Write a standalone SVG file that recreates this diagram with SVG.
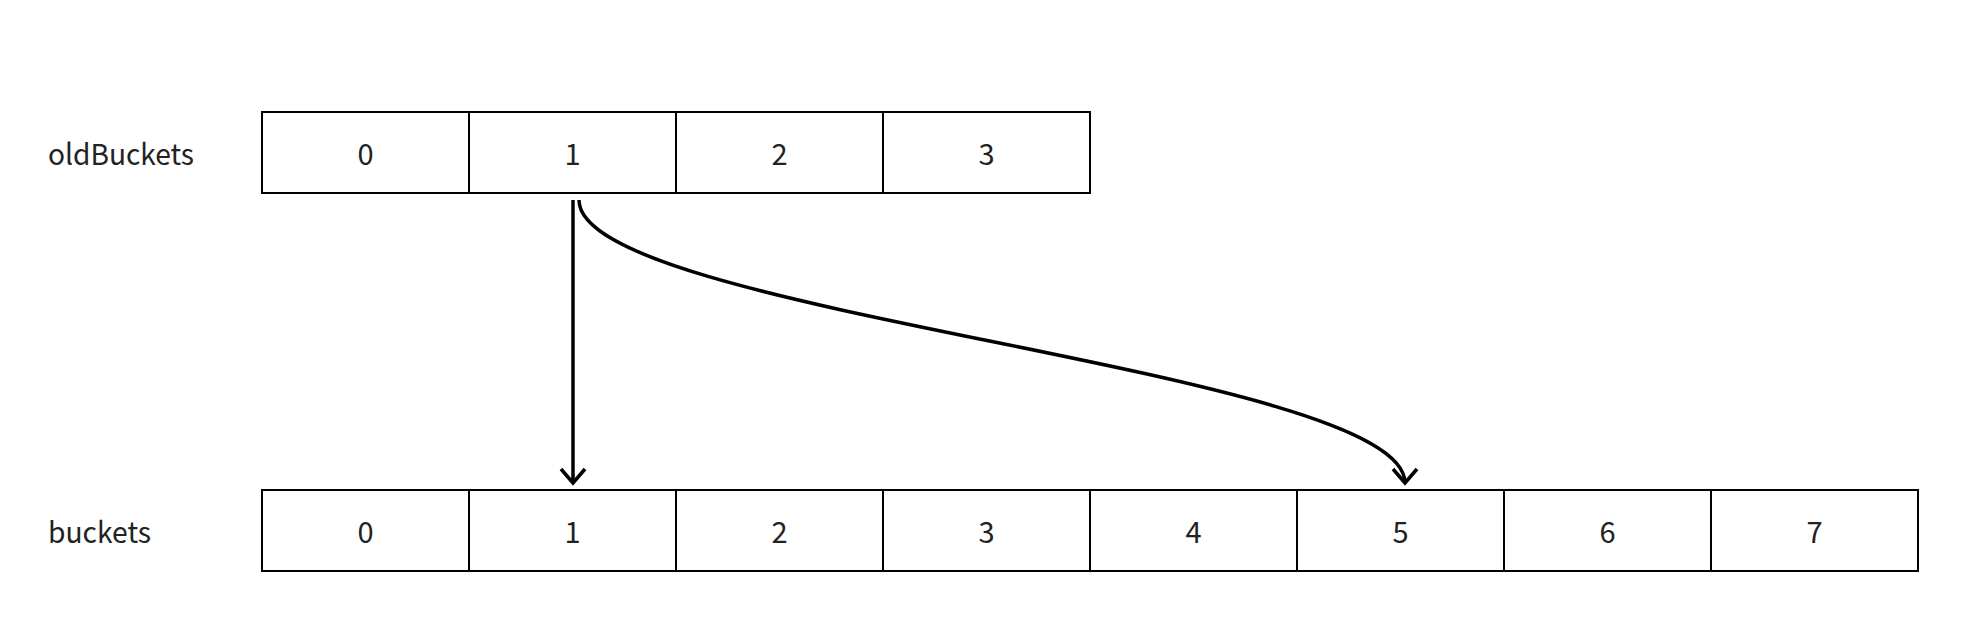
<svg xmlns="http://www.w3.org/2000/svg" width="1966" height="620" viewBox="0 0 1966 620">
<style>
.cell{fill:#fff;stroke:#000;stroke-width:2}
.t{font-family:"Noto Sans CJK SC","Noto Sans",sans-serif;font-size:29px;font-weight:400;fill:#222}
.c{text-anchor:middle}
.arr{fill:none;stroke:#000;stroke-width:3.5}
</style>
<defs>
<marker id="ah" markerUnits="userSpaceOnUse" markerWidth="40" markerHeight="40" viewBox="-20 -20 40 40" refX="0" refY="0" orient="auto" overflow="visible">
<path d="M-14,-12 L0,0 L-14,12" fill="none" stroke="#000" stroke-width="3.5" stroke-linejoin="miter"/>
</marker>
</defs>
<rect width="1966" height="620" fill="#fff"/>
<g id="label-oldBuckets"><text class="t" x="48" y="165" textLength="146" lengthAdjust="spacingAndGlyphs">oldBuckets</text></g>
<g id="label-buckets"><text class="t" x="48" y="543" textLength="103" lengthAdjust="spacingAndGlyphs">buckets</text></g>
<g id="oldBuckets">
<g id="old-0"><rect class="cell" x="262" y="112" width="207" height="81"/><text class="t c" x="365.5" y="164.5">0</text></g>
<g id="old-1"><rect class="cell" x="469" y="112" width="207" height="81"/><text class="t c" x="572.5" y="164.5">1</text></g>
<g id="old-2"><rect class="cell" x="676" y="112" width="207" height="81"/><text class="t c" x="779.5" y="164.5">2</text></g>
<g id="old-3"><rect class="cell" x="883" y="112" width="207" height="81"/><text class="t c" x="986.5" y="164.5">3</text></g>
</g>
<g id="buckets">
<g id="new-0"><rect class="cell" x="262" y="490" width="207" height="81"/><text class="t c" x="365.5" y="543">0</text></g>
<g id="new-1"><rect class="cell" x="469" y="490" width="207" height="81"/><text class="t c" x="572.5" y="543">1</text></g>
<g id="new-2"><rect class="cell" x="676" y="490" width="207" height="81"/><text class="t c" x="779.5" y="543">2</text></g>
<g id="new-3"><rect class="cell" x="883" y="490" width="207" height="81"/><text class="t c" x="986.5" y="543">3</text></g>
<g id="new-4"><rect class="cell" x="1090" y="490" width="207" height="81"/><text class="t c" x="1193.5" y="543">4</text></g>
<g id="new-5"><rect class="cell" x="1297" y="490" width="207" height="81"/><text class="t c" x="1400.5" y="543">5</text></g>
<g id="new-6"><rect class="cell" x="1504" y="490" width="207" height="81"/><text class="t c" x="1607.5" y="543">6</text></g>
<g id="new-7"><rect class="cell" x="1711" y="490" width="207" height="81"/><text class="t c" x="1814.5" y="543">7</text></g>
</g>
<g id="connectors">
<path class="arr" d="M573,200 L573,483" marker-end="url(#ah)"/>
<path class="arr" d="M579,200 C579,314.5 1405,368.5 1405,483" marker-end="url(#ah)"/>
</g>
</svg>
